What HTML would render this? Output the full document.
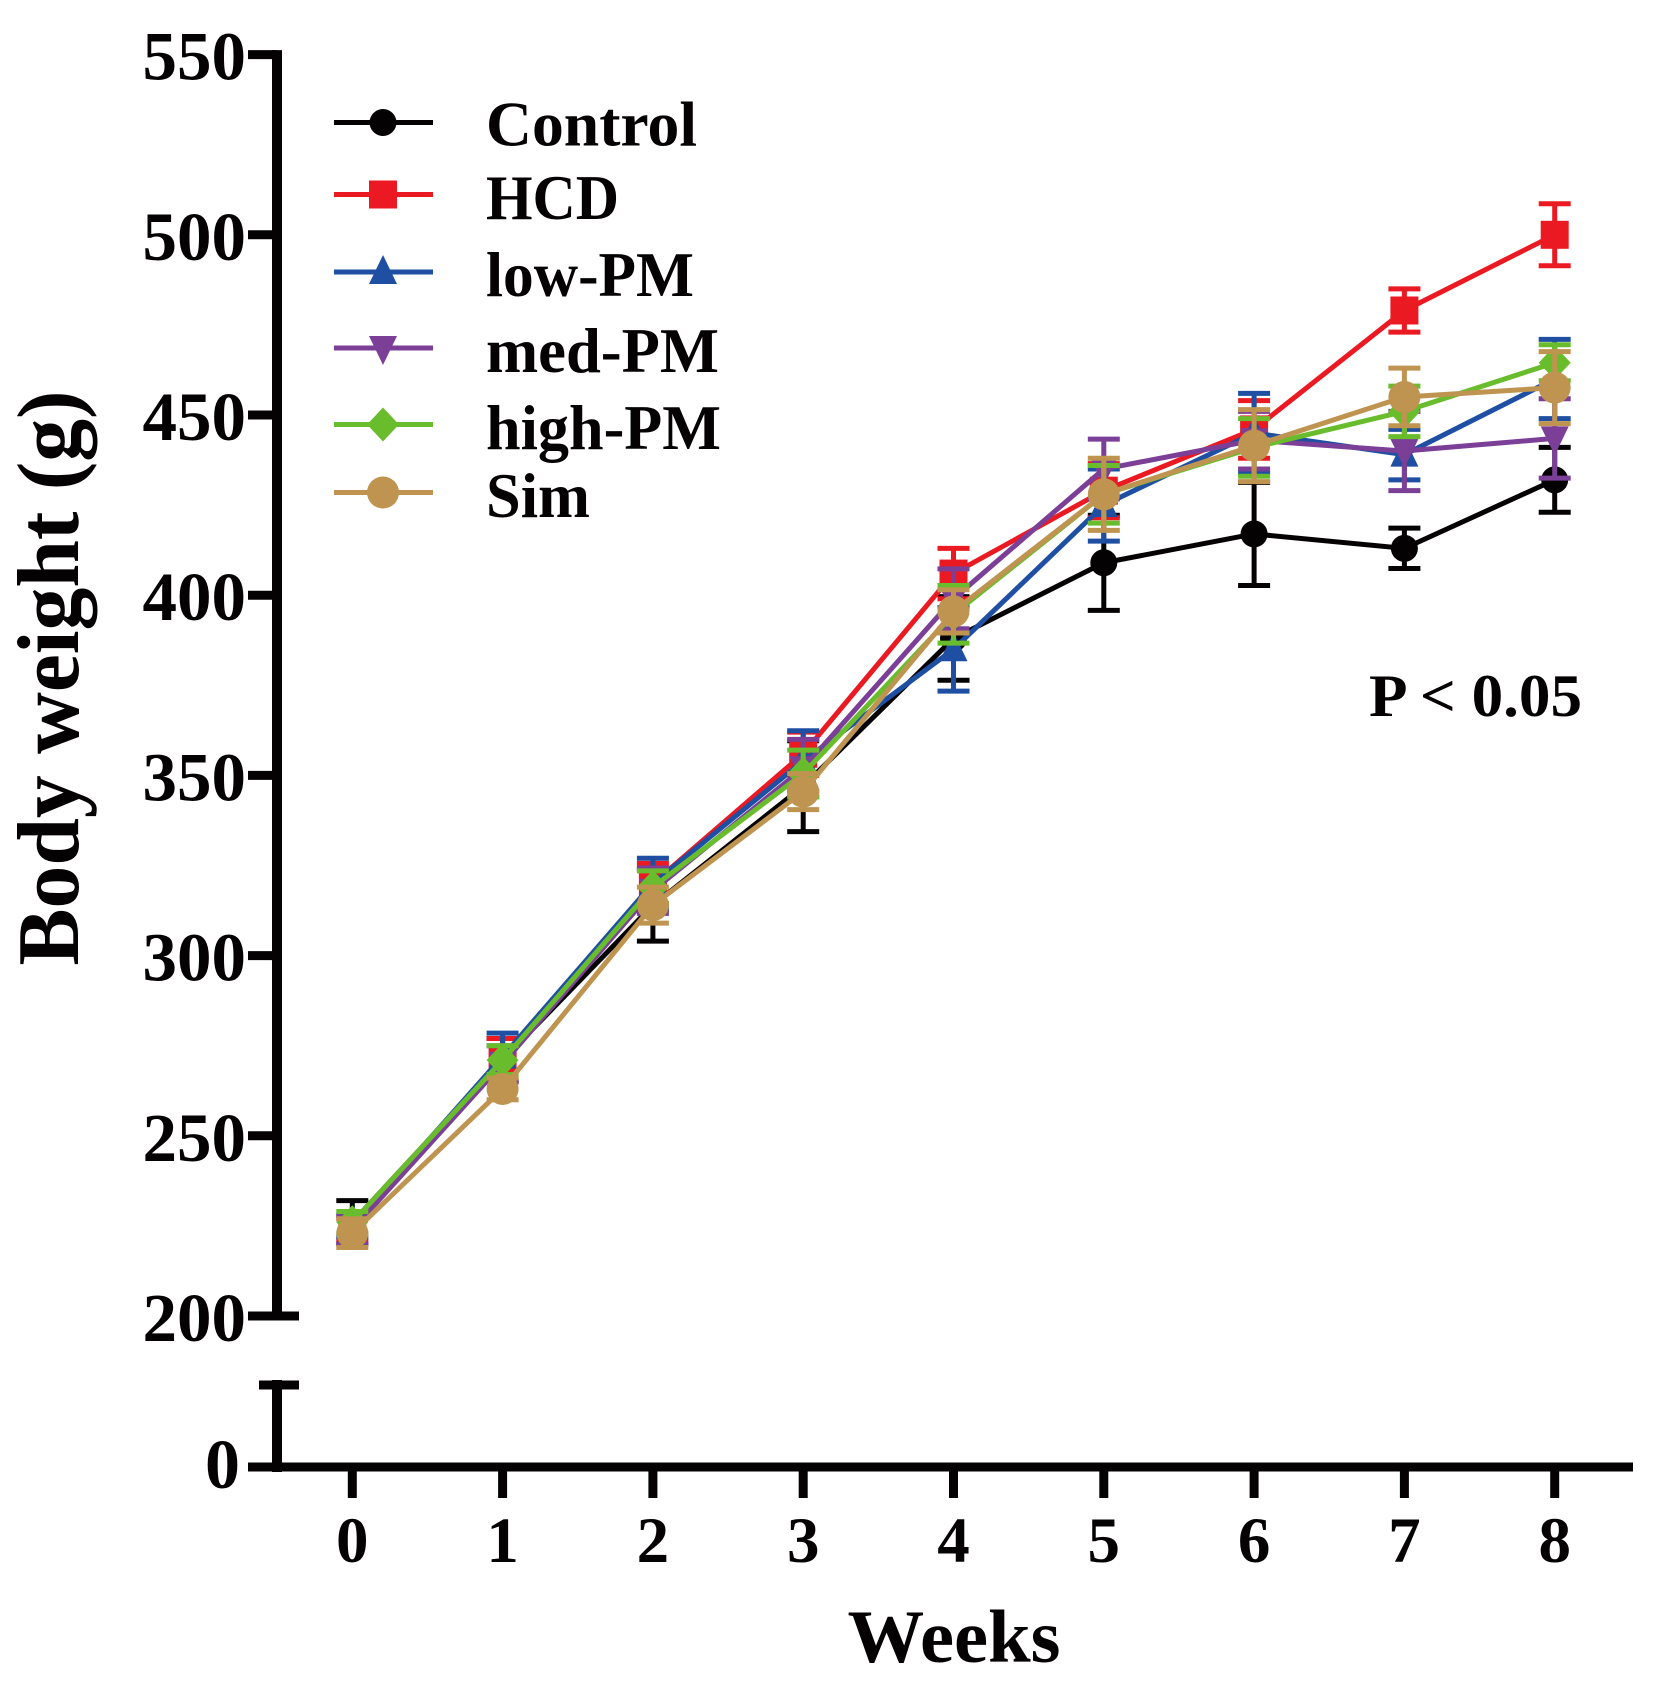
<!DOCTYPE html>
<html lang="en">
<head>
<meta charset="utf-8">
<title>Body weight over weeks</title>
<style>
html,body{margin:0;padding:0;background:#fff;}
svg{display:block;}
text{font-family:"Liberation Serif","Times New Roman",serif;font-weight:bold;fill:#050203;}
</style>
</head>
<body>
<svg id="chart" xmlns="http://www.w3.org/2000/svg" width="1656" height="1687" viewBox="0 0 1656 1687">
  <rect width="1656" height="1687" fill="#ffffff"/>
  <g id="axes"></g>
  <g id="series"></g>
  <g id="legend"></g>
  <text transform="translate(78,678) rotate(-90)" text-anchor="middle" font-size="88" textLength="575" lengthAdjust="spacingAndGlyphs">Body weight (g)</text>
  <text x="954" y="1662" text-anchor="middle" font-size="75" textLength="213" lengthAdjust="spacingAndGlyphs">Weeks</text>
  <text x="1369" y="716" font-size="60" textLength="213" lengthAdjust="spacingAndGlyphs">P &lt; 0.05</text>
</svg>
<script>
const weeks = [0, 1, 2, 3, 4, 5, 6, 7, 8];
const yTickValues = [200, 250, 300, 350, 400, 450, 500, 550];
const seriesNames = ["Control", "HCD", "low-PM", "med-PM", "high-PM", "Sim"];
const seriesColors = ["#050203", "#EB1A22", "#1E4FA3", "#7B3F98", "#69BD2D", "#BE9450"];
const seriesMarkers = ["circle", "square", "up", "down", "diamond", "bigcircle"];

const controlMean = [226, 271, 314, 347, 388, 409, 417, 413, 432];
const hcdMean     = [224, 271, 320, 356, 406, 429, 446, 479, 500];
const lowMean     = [225, 272, 320, 354, 385, 425, 445, 439, 460];
const medMean     = [224, 270, 318, 352, 399, 435, 443, 440, 443.5];
const highMean    = [226, 271, 319, 350.5, 394.7, 428, 441, 451, 464.5];
const simMean     = [223, 263, 314, 345.5, 395.5, 428, 441.5, 455, 457.6];

const controlSd = [6, 6, 10, 12.6, 11.6, 13.2, 14.3, 5.6, 9];
const hcdSd     = [3, 6, 5.6, 6, 7, 7.5, 8, 6, 8.6];
const lowSd     = [3, 6.5, 7, 8.4, 11.6, 10, 11, 7, 11];
const medSd     = [4, 5, 6.3, 8, 8.3, 8.3, 8, 11, 11];
const highSd    = [3, 4, 4.5, 6.5, 8, 8, 8, 7, 5];
const simSd     = [4, 3, 5, 5, 6, 10, 10, 8, 10];

const allMeans = [controlMean, hcdMean, lowMean, medMean, highMean, simMean];
const allSds = [controlSd, hcdSd, lowSd, medSd, highSd, simSd];

const NS = "http://www.w3.org/2000/svg";
const axisColor = "#050203";
const xAt0 = 352.3, xStep = 150.3;
const yAt200 = 1316, yPerUnit = 3.604, yZero = 1467;

function xScale(w) { return xAt0 + w * xStep; }
function yScale(v) { return yAt200 - (v - 200) * yPerUnit; }

function make(parent, tag, attrs) {
  const el = document.createElementNS(NS, tag);
  for (const k in attrs) el.setAttribute(k, attrs[k]);
  parent.appendChild(el);
  return el;
}

function drawMarker(parent, type, x, y, color, label) {
  let el;
  if (type === "circle") {
    el = make(parent, "circle", {cx: x, cy: y, r: 13.5, fill: color});
  } else if (type === "bigcircle") {
    el = make(parent, "circle", {cx: x, cy: y, r: 16, fill: color});
  } else if (type === "square") {
    el = make(parent, "rect", {x: x - 14, y: y - 14, width: 28, height: 28, fill: color});
  } else if (type === "up") {
    el = make(parent, "polygon", {points: `${x},${y - 17} ${x + 14},${y + 12} ${x - 14},${y + 12}`, fill: color});
  } else if (type === "down") {
    el = make(parent, "polygon", {points: `${x},${y + 17} ${x + 14},${y - 12} ${x - 14},${y - 12}`, fill: color});
  } else {
    el = make(parent, "polygon", {points: `${x},${y - 17} ${x + 16},${y} ${x},${y + 17} ${x - 16},${y}`, fill: color});
  }
  
  
  return el;
}

/* axes */
const axesG = document.getElementById("axes");
const yAxisUpper = make(axesG, "line", {x1: 277, x2: 277, y1: yScale(550) - 4.5, y2: yScale(200) + 4.5, stroke: axisColor, "stroke-width": 10});


const yAxisLower = make(axesG, "line", {x1: 277, x2: 277, y1: 1380, y2: yZero + 5, stroke: axisColor, "stroke-width": 10});


const breakCap = make(axesG, "line", {x1: 259, x2: 299, y1: 1385, y2: 1385, stroke: axisColor, "stroke-width": 9});


const xAxis = make(axesG, "line", {x1: 248, x2: 1633, y1: yZero, y2: yZero, stroke: axisColor, "stroke-width": 9});



const zeroLabel = make(axesG, "text", {x: 240, y: 1488, "text-anchor": "end", "font-size": 70});
zeroLabel.textContent = "0";



yTickValues.forEach(function (v) {
  const yy = yScale(v);
  const tick = make(axesG, "line", {x1: 248, x2: v === 200 ? 299 : 277, y1: yy, y2: yy, stroke: axisColor, "stroke-width": 9});
  
  
  const lab = make(axesG, "text", {x: 246, y: yy + 25, "text-anchor": "end", "font-size": 69});
  lab.textContent = String(v);
  
  
});

weeks.forEach(function (w) {
  const xx = xScale(w);
  const tick = make(axesG, "line", {x1: xx, x2: xx, y1: yZero, y2: 1498, stroke: axisColor, "stroke-width": 9});
  
  
  const lab = make(axesG, "text", {x: xx, y: 1562, "text-anchor": "middle", "font-size": 65});
  lab.textContent = String(w);
  
  
});

/* series */
const seriesG = document.getElementById("series");
seriesNames.forEach(function (name, s) {
  const key = name.toLowerCase();
  const color = seriesColors[s];
  const means = allMeans[s];
  const sds = allSds[s];
  const group = make(seriesG, "g", {});
  
  

  const line = make(group, "polyline", {
    points: weeks.map(function (w, i) { return xScale(w) + "," + yScale(means[i]); }).join(" "),
    fill: "none", stroke: color, "stroke-width": 5, "stroke-linejoin": "round"
  });
  
  

  weeks.forEach(function (w, i) {
    const xx = xScale(w);
    const top = yScale(means[i] + sds[i]);
    const bot = yScale(means[i] - sds[i]);
    const err = make(group, "path", {
      d: `M${xx} ${top}V${bot}M${xx - 16} ${top}H${xx + 16}M${xx - 16} ${bot}H${xx + 16}`,
      fill: "none", stroke: color, "stroke-width": 5
    });
    
    
    drawMarker(group, seriesMarkers[s], xx, yScale(means[i]), color, 'point-' + key + '-week-' + w);
  });
});

/* legend */
const legendG = document.getElementById("legend");
const legendRowY = [122.5, 194.5, 272, 348, 424.5, 492.5];
const legendBaseY = [145.5, 219, 296, 372, 449, 517];
const legendTextWidths = [211, 133, 208, 233, 235, 104];
seriesNames.forEach(function (name, s) {
  const key = name.toLowerCase();
  const entry = make(legendG, "g", {});
  
  
  const ln = make(entry, "line", {x1: 334, x2: 433, y1: legendRowY[s], y2: legendRowY[s], stroke: seriesColors[s], "stroke-width": 5});
  
  
  drawMarker(entry, seriesMarkers[s], 383, legendRowY[s], seriesColors[s], 'legend-marker-' + key);
  const t = make(entry, "text", {x: 486, y: legendBaseY[s], "font-size": 63, textLength: legendTextWidths[s], lengthAdjust: "spacingAndGlyphs"});
  t.textContent = name;
  
  
});
</script>
</body>
</html>
